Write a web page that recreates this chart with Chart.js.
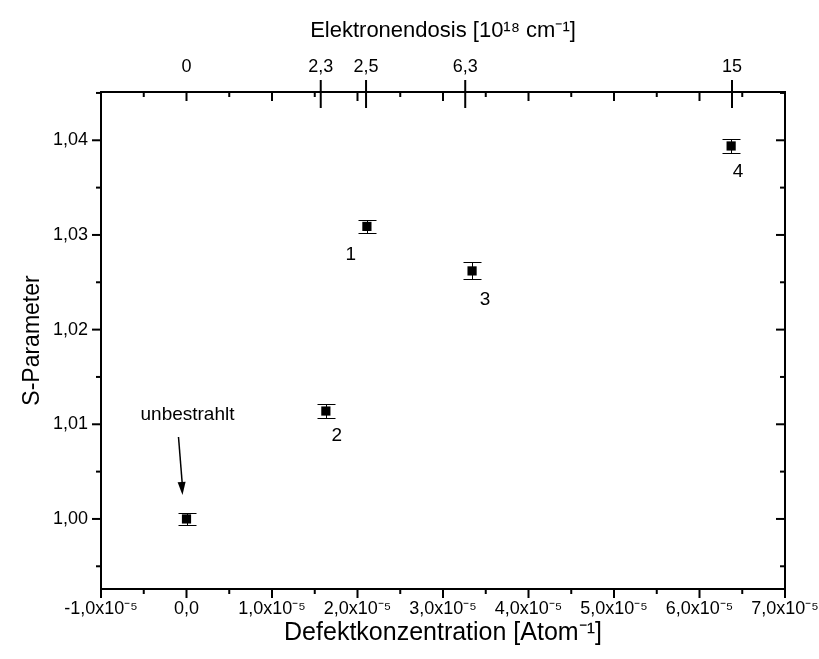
<!DOCTYPE html>
<html>
<head>
<meta charset="utf-8">
<script src="https://cdn.jsdelivr.net/npm/chart.js@4"></script>
<style>
  body { margin: 0; background: #fff; }
</style>
</head>
<body>
<canvas id="chart" width="819" height="659"></canvas>
<script>
// samples: defect concentration (Atom^-1) vs. S-parameter
const concentration = [0, 1.63e-5, 2.11e-5, 3.34e-5, 6.37e-5];
const sParameter = [1.0000, 1.0114, 1.0309, 1.0262, 1.0394];
const sError = [0.0006, 0.0007, 0.0007, 0.0009, 0.0007];
const sampleNames = ['unbestrahlt', '2', '1', '3', '4'];

const xTicks = [-1e-5, 0, 1e-5, 2e-5, 3e-5, 4e-5, 5e-5, 6e-5, 7e-5];
const xTickLabels = ['-1,0x10⁻⁵', '0,0', '1,0x10⁻⁵', '2,0x10⁻⁵', '3,0x10⁻⁵',
  '4,0x10⁻⁵', '5,0x10⁻⁵', '6,0x10⁻⁵', '7,0x10⁻⁵'];
const yTicks = [1.00, 1.01, 1.02, 1.03, 1.04];
const yTickLabels = ['1,00', '1,01', '1,02', '1,03', '1,04'];

// top axis: electron dose, placed at the matching concentration
const doseTicks = [0, 1.57e-5, 2.10e-5, 3.26e-5, 6.38e-5];
const doseLabels = ['0', '2,3', '2,5', '6,3', '15'];

const font = '"Liberation Sans", Arial, sans-serif';

// label offsets from each point, in pixels
const labelOffsets = [[1, -104], [11, 25], [-16, 28], [13, 29], [7, 26]];

function minorsOf(ticks, min, max) {
  const step = ticks[1] - ticks[0];
  const out = [];
  for (let i = -1; i < ticks.length; i++) {
    const v = ticks[0] + (i + 0.5) * step;
    if (v > min && v < max) out.push(v);
  }
  return out;
}

const decorations = {
  id: 'decorations',
  beforeDatasetsDraw(chart) {
    const ctx = chart.ctx;
    const x = chart.scales.x, y = chart.scales.y;
    ctx.save();
    ctx.strokeStyle = '#000';
    ctx.lineWidth = 1;
    concentration.forEach((c, i) => {
      const px = Math.round(x.getPixelForValue(c)) + 0.5;
      const top = Math.round(y.getPixelForValue(sParameter[i] + sError[i])) + 0.5;
      const bot = Math.round(y.getPixelForValue(sParameter[i] - sError[i])) + 0.5;
      ctx.beginPath();
      ctx.moveTo(px, top); ctx.lineTo(px, bot);
      ctx.moveTo(px - 9, top); ctx.lineTo(px + 9, top);
      ctx.moveTo(px - 9, bot); ctx.lineTo(px + 9, bot);
      ctx.stroke();
    });
    ctx.restore();
  },
  afterDraw(chart) {
    const ctx = chart.ctx;
    const a = chart.chartArea;
    const x = chart.scales.x, y = chart.scales.y;
    ctx.save();
    ctx.strokeStyle = '#000';
    ctx.fillStyle = '#000';
    ctx.lineWidth = 2;
    ctx.strokeRect(a.left, a.top, a.right - a.left, a.bottom - a.top);

    const line = (x1, y1, x2, y2) => {
      ctx.beginPath(); ctx.moveTo(x1, y1); ctx.lineTo(x2, y2); ctx.stroke();
    };
    xTicks.forEach(v => {
      const p = x.getPixelForValue(v);
      line(p, a.bottom, p, a.bottom + 9);
      line(p, a.top, p, a.top + 9);
    });
    minorsOf(xTicks, x.min, x.max).forEach(v => {
      const p = x.getPixelForValue(v);
      line(p, a.bottom, p, a.bottom + 5);
      line(p, a.top, p, a.top + 5);
    });
    yTicks.forEach(v => {
      const p = y.getPixelForValue(v);
      line(a.left - 9, p, a.left, p);
      line(a.right - 9, p, a.right, p);
    });
    minorsOf(yTicks, y.min, y.max).forEach(v => {
      const p = y.getPixelForValue(v);
      line(a.left - 5, p, a.left, p);
      line(a.right - 5, p, a.right, p);
    });
    // dose ticks cross the top axis
    doseTicks.forEach(v => {
      if (v === 0) return;
      const p = x.getPixelForValue(v);
      line(p, a.top - 12, p, a.top + 16);
    });

    // sample labels
    ctx.textAlign = 'center';
    ctx.textBaseline = 'middle';
    sampleNames.forEach((name, i) => {
      const px = x.getPixelForValue(concentration[i]) + labelOffsets[i][0];
      const py = y.getPixelForValue(sParameter[i]) + labelOffsets[i][1];
      ctx.font = (name.length > 1 ? '19px ' : '19px ') + font;
      ctx.fillText(name, px, py);
    });

    // arrow to the unirradiated sample
    const ax = x.getPixelForValue(concentration[0]);
    const ay = y.getPixelForValue(sParameter[0]);
    const x1 = ax - 8, y1 = ay - 82, x2 = ax - 4, y2 = ay - 24;
    ctx.lineWidth = 1.5;
    line(x1, y1, x2, y2 - 8);
    const ang = Math.atan2(y2 - y1, x2 - x1);
    ctx.beginPath();
    ctx.moveTo(x2, y2);
    ctx.lineTo(x2 - 13 * Math.cos(ang) + 4 * Math.sin(ang), y2 - 13 * Math.sin(ang) - 4 * Math.cos(ang));
    ctx.lineTo(x2 - 13 * Math.cos(ang) - 4 * Math.sin(ang), y2 - 13 * Math.sin(ang) + 4 * Math.cos(ang));
    ctx.closePath();
    ctx.fill();
    ctx.restore();
  }
};

const noSidePadding = s => { s.paddingLeft = 0; s.paddingRight = 0; };

new Chart(document.getElementById('chart'), {
  type: 'scatter',
  data: {
    datasets: [{
      data: concentration.map((c, i) => ({ x: c, y: sParameter[i] })),
      pointStyle: 'rect',
      radius: 6.5,
      backgroundColor: '#000',
      borderColor: '#000',
      borderWidth: 0
    }]
  },
  options: {
    responsive: false,
    animation: false,
    layout: { padding: { right: 34 } },
    plugins: {
      legend: { display: false },
      tooltip: { enabled: false }
    },
    scales: {
      x: {
        type: 'linear',
        position: 'bottom',
        min: -1e-5,
        max: 7e-5,
        afterBuildTicks: s => { s.ticks = xTicks.map(v => ({ value: v })); },
        afterFit: s => { s.height = 70; noSidePadding(s); },
        grid: { display: false, drawTicks: false },
        border: { display: false },
        ticks: {
          autoSkip: false, maxRotation: 0, padding: 9, color: '#000',
          font: { family: font, size: 18 },
          callback: (v, i) => xTickLabels[i]
        },
        title: {
          display: true,
          text: 'Defektkonzentration [Atom⁻¹]',
          color: '#000',
          font: { family: font, size: 25 },
          padding: { top: 0, bottom: 11 }
        }
      },
      x2: {
        type: 'linear',
        position: 'top',
        min: -1e-5,
        max: 7e-5,
        afterBuildTicks: s => { s.ticks = doseTicks.map(v => ({ value: v })); },
        afterFit: s => { s.height = 92; noSidePadding(s); },
        grid: { display: false, drawTicks: false },
        border: { display: false },
        ticks: {
          autoSkip: false, maxRotation: 0, padding: 14, color: '#000',
          font: { family: font, size: 18 },
          callback: (v, i) => doseLabels[i]
        },
        title: {
          display: true,
          text: 'Elektronendosis [10¹⁸ cm⁻¹]',
          color: '#000',
          font: { family: font, size: 22 },
          padding: { top: 18, bottom: 0 }
        }
      },
      y: {
        type: 'linear',
        min: 0.9926,
        max: 1.0451,
        afterBuildTicks: s => { s.ticks = yTicks.map(v => ({ value: v })); },
        afterFit: s => { s.width = 101; },
        grid: { display: false, drawTicks: false },
        border: { display: false },
        ticks: {
          padding: 13, color: '#000',
          font: { family: font, size: 18 },
          callback: (v, i) => yTickLabels[i]
        },
        title: {
          display: true,
          text: 'S-Parameter',
          color: '#000',
          font: { family: font, size: 23 },
          padding: { top: 19, bottom: 0 }
        }
      }
    }
  },
  plugins: [decorations]
});
</script>
</body>
</html>
